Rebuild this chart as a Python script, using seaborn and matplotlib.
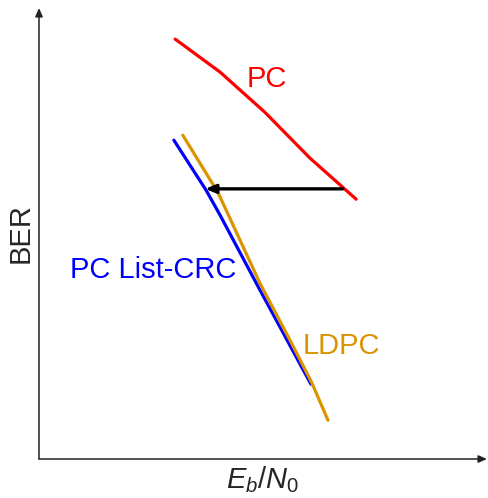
import matplotlib
matplotlib.use("Agg")
import matplotlib.pyplot as plt
import seaborn as sns
import pandas as pd

# Sketch of BER curves versus Eb/N0 (arbitrary units)
pc_x = [3.04, 4.04, 5.04, 6.05, 7.08]
pc_y = [9.31, 8.58, 7.69, 6.67, 5.76]

list_crc_x = [3.01, 3.73, 4.04, 4.93, 6.07]
list_crc_y = [7.07, 5.96, 5.41, 3.75, 1.66]

ldpc_x = [3.21, 4.00, 4.93, 5.60, 6.09, 6.45]
ldpc_y = [7.18, 5.90, 3.90, 2.64, 1.69, 0.86]

series_names = ["PC", "PC List-CRC", "LDPC"]
series_colors = ["#ff0000", "#0000ff", "#db9400"]

gain_arrow_y = 5.99
gain_arrow_from_x = 6.78
gain_arrow_to_x = 3.71

frames = []
for name, xs, ys in zip(series_names,
                        [pc_x, list_crc_x, ldpc_x],
                        [pc_y, list_crc_y, ldpc_y]):
    frames.append(pd.DataFrame({"x": xs, "y": ys, "code": name}))
df = pd.concat(frames, ignore_index=True)

sns.set_style("white")
plt.rcParams["font.family"] = ["Liberation Sans", "DejaVu Sans"]
plt.rcParams["mathtext.fontset"] = "custom"
plt.rcParams["mathtext.it"] = "Liberation Sans:italic"
plt.rcParams["mathtext.rm"] = "Liberation Sans"

W, H = 488, 498
fig = plt.figure(figsize=(W / 100, H / 100), dpi=100)
ax = fig.add_axes([39 / W, (H - 459) / H, 448 / W, 451 / H])

sns.lineplot(data=df, x="x", y="y", hue="code", palette=dict(zip(series_names, series_colors)),
             sort=False, estimator=None, linewidth=2.3, legend=False, ax=ax)
for line in ax.lines:
    line.set_solid_capstyle("round")
    line.set_solid_joinstyle("round")

ax.set_xlim(0, 10)
ax.set_ylim(0, 10)
ax.set_xticks([])
ax.set_yticks([])
for s in ax.spines.values():
    s.set_visible(False)

# Axes drawn as arrows
arrow_kw = dict(arrowstyle="-|>,head_length=0.5,head_width=0.22", color="#222222", lw=1.1,
                shrinkA=0, shrinkB=0)
ax.annotate("", xy=(1, 0), xytext=(0, 0), xycoords="axes fraction",
            arrowprops=arrow_kw, annotation_clip=False)
ax.annotate("", xy=(0, 1), xytext=(0, 0), xycoords="axes fraction",
            arrowprops=arrow_kw, annotation_clip=False)

# Coding gain arrow
ax.annotate("", xy=(gain_arrow_to_x, gain_arrow_y), xytext=(gain_arrow_from_x, gain_arrow_y),
            arrowprops=dict(arrowstyle="-|>,head_length=0.6,head_width=0.25", color="black",
                            lw=2.4, shrinkA=0, shrinkB=0))

fs = 21
ax.text(5.09, 8.42, "PC", color=series_colors[0], fontsize=fs, ha="center", va="center")
ax.text(2.54, 4.19, "PC List-CRC", color=series_colors[1], fontsize=fs, ha="center", va="center")
ax.text(6.76, 2.50, "LDPC", color=series_colors[2], fontsize=fs, ha="center", va="center")

ax.set_xlabel(r"$E_b/N_0$", fontsize=fs, labelpad=4)
ax.set_ylabel("BER", fontsize=fs, labelpad=3)

fig.savefig("out.png", dpi=100)
